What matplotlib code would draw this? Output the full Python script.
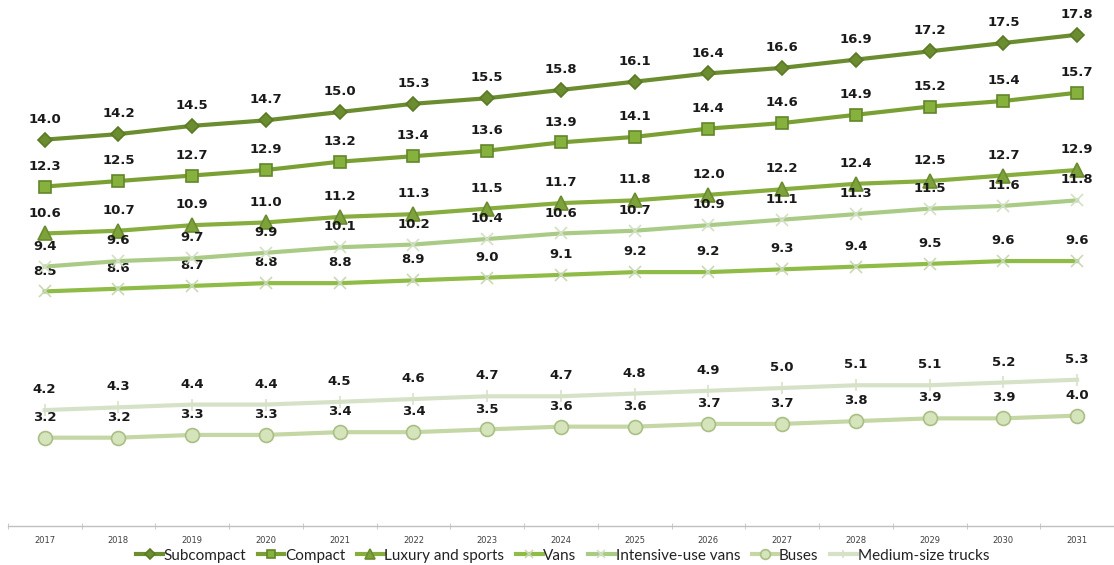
import numpy as np
import matplotlib.pyplot as plt

# %% data ---------------------------------------------------------------------
years = [str(y) for y in range(2017, 2032)]

subcompact = [14.0, 14.2, 14.5, 14.7, 15.0, 15.3, 15.5, 15.8, 16.1, 16.4, 16.6, 16.9, 17.2, 17.5, 17.8]
compact = [12.3, 12.5, 12.7, 12.9, 13.2, 13.4, 13.6, 13.9, 14.1, 14.4, 14.6, 14.9, 15.2, 15.4, 15.7]
luxury = [10.6, 10.7, 10.9, 11.0, 11.2, 11.3, 11.5, 11.7, 11.8, 12.0, 12.2, 12.4, 12.5, 12.7, 12.9]
vans = [8.5, 8.6, 8.7, 8.8, 8.8, 8.9, 9.0, 9.1, 9.2, 9.2, 9.3, 9.4, 9.5, 9.6, 9.6]
intensive_vans = [9.4, 9.6, 9.7, 9.9, 10.1, 10.2, 10.4, 10.6, 10.7, 10.9, 11.1, 11.3, 11.5, 11.6, 11.8]
buses = [3.2, 3.2, 3.3, 3.3, 3.4, 3.4, 3.5, 3.6, 3.6, 3.7, 3.7, 3.8, 3.9, 3.9, 4.0]
trucks = [4.2, 4.3, 4.4, 4.4, 4.5, 4.6, 4.7, 4.7, 4.8, 4.9, 5.0, 5.1, 5.1, 5.2, 5.3]

# (label, values, line colour, marker, marker face, marker edge, marker size)
series = [
    ("Subcompact", subcompact, "#6b8d2f", "D", "#6b8d2f", "#5a7a26", 7),
    ("Compact", compact, "#7aa034", "s", "#86b13c", "#62862a", 9),
    ("Luxury and sports", luxury, "#86ad3d", "^", "#7ea23a", "#6a8c30", 10),
    ("Vans", vans, "#8fbb47", "x", "#c9d9b8", "#c9d9b8", 9),
    ("Intensive-use vans", intensive_vans, "#aacb86", "x", "#d3e0c6", "#d3e0c6", 9),
    ("Buses", buses, "#c4d7a5", "o", "#d6e4bb", "#a9bf85", 10),
    ("Medium-size trucks", trucks, "#d6e2c8", "|", "#d6e2c8", "#d6e2c8", 9),
]

# %% plot ---------------------------------------------------------------------
fig = plt.figure(figsize=(11.14, 5.65), dpi=100)
ax = fig.add_axes([0.007, 39 / 565, 0.993, 526 / 565])
x = np.arange(len(years))

for label, vals, color, mk, mfc, mec, ms in series:
    ax.plot(x, vals, color=color, lw=3, marker=mk, markersize=ms,
            markerfacecolor=mfc, markeredgecolor=mec, markeredgewidth=1.2,
            label=label, zorder=3)
    for xi, v in zip(x, vals):
        ax.annotate(f"{v:.1f}", (xi, v), xytext=(0, 10), textcoords="offset points",
                    ha="center", va="bottom", fontsize=9.5, fontweight="bold",
                    color="#1a1a1a")

ax.set_xlim(-0.5, len(years) - 0.5)
ax.set_ylim(0, 19.06)

for side in ["top", "right", "left"]:
    ax.spines[side].set_visible(False)
ax.spines["bottom"].set_color("#c0c0c0")
ax.spines["bottom"].set_linewidth(1)
ax.set_yticks([])

ax.set_xticks(x)
ax.set_xticklabels(years, fontsize=6, color="#404040")
ax.tick_params(axis="x", which="major", length=0, pad=7)
ax.set_xticks(np.arange(-0.5, len(years)), minor=True)
ax.tick_params(axis="x", which="minor", length=4, color="#c0c0c0", direction="inout")

leg = fig.legend(loc="lower center", bbox_to_anchor=(0.505, -0.02), ncol=7,
                 frameon=False, prop={"family": "Lato", "size": 11},
                 handlelength=1.75, handletextpad=0.05,
                 columnspacing=0.75, markerscale=0.7)
for t in leg.get_texts():
    t.set_color("#222222")

fig.savefig("out.png", dpi=100)
